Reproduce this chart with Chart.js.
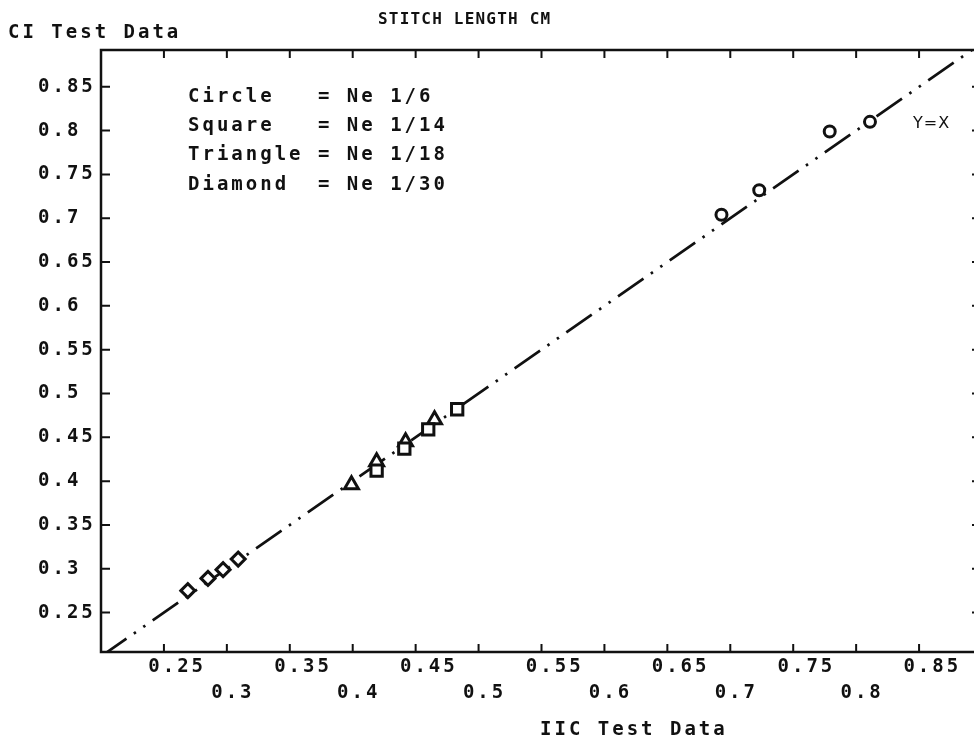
<!DOCTYPE html>
<html>
<head>
<meta charset="utf-8">
<script src="https://cdn.jsdelivr.net/npm/chart.js@4.4.1/dist/chart.umd.min.js"></script>
<style>
  html, body { margin: 0; padding: 0; background: #fff; overflow: hidden; }
</style>
</head>
<body>
<canvas id="stitchChart" width="1000" height="740"></canvas>
<script>
// stitch length in cm, x = IIC test, y = CI test
const circleX = [0.693, 0.723, 0.779, 0.811];
const circleY = [0.704, 0.732, 0.799, 0.810];
const squareX = [0.419, 0.441, 0.460, 0.483];
const squareY = [0.412, 0.437, 0.459, 0.482];
const triangleX = [0.399, 0.419, 0.442, 0.465];
const triangleY = [0.396, 0.422, 0.445, 0.470];
const diamondX = [0.269, 0.285, 0.297, 0.309];
const diamondY = [0.275, 0.289, 0.299, 0.311];
const lineX = [0.2, 0.9];
const lineY = [0.2, 0.9];

const xTicks = [0.25, 0.3, 0.35, 0.4, 0.45, 0.5, 0.55, 0.6, 0.65, 0.7, 0.75, 0.8, 0.85];
const yTicks = [0.25, 0.3, 0.35, 0.4, 0.45, 0.5, 0.55, 0.6, 0.65, 0.7, 0.75, 0.8, 0.85];

const legendLines = [
    'Circle   = Ne 1/6',
    'Square   = Ne 1/14',
    'Triangle = Ne 1/18',
    'Diamond  = Ne 1/30'
];

const ink = '#111';
const mono = '"DejaVu Sans Mono", monospace';
const spacing = '3px';

const pts = (xs, ys) => xs.map((v, i) => ({ x: v, y: ys[i] }));

const marker = (label, xs, ys, style, radius) => ({
    label: label,
    data: pts(xs, ys),
    pointStyle: style,
    pointRadius: radius,
    pointBorderWidth: 3,
    pointBorderColor: ink,
    pointBackgroundColor: '#fff',
    showLine: false
});

// plotter look: spaced text, framed box with inward ticks, free-standing texts
const plotter = {
    id: 'plotter',
    beforeLayout(chart) { chart.ctx.letterSpacing = spacing; },
    beforeDraw(chart) { chart.ctx.letterSpacing = spacing; },
    afterDraw(chart) {
        const { ctx, chartArea: a, scales: { x, y } } = chart;
        ctx.save();
        ctx.strokeStyle = ink;
        ctx.lineWidth = 2.5;
        ctx.strokeRect(a.left, a.top, a.right - a.left, a.bottom - a.top);
        ctx.lineWidth = 2;
        ctx.beginPath();
        x.ticks.forEach(t => {
            const px = x.getPixelForValue(t.value);
            ctx.moveTo(px, a.bottom); ctx.lineTo(px, a.bottom - 8);
            ctx.moveTo(px, a.top); ctx.lineTo(px, a.top + 8);
        });
        y.ticks.forEach(t => {
            const py = y.getPixelForValue(t.value);
            ctx.moveTo(a.left, py); ctx.lineTo(a.left + 9, py);
            ctx.moveTo(a.right, py); ctx.lineTo(a.right - 10, py);
        });
        ctx.stroke();

        ctx.fillStyle = ink;
        ctx.textAlign = 'left';
        ctx.textBaseline = 'alphabetic';
        ctx.font = 'bold 19px ' + mono;
        ctx.letterSpacing = spacing;
        ctx.fillText('CI Test Data', 8, 38);
        ctx.fillText('IIC Test Data', 540, 735);
        legendLines.forEach((s, i) => ctx.fillText(s, 188, 102 + i * 29.2));

        ctx.font = 'bold 16px ' + mono;
        ctx.letterSpacing = '1.2px';
        ctx.fillText('STITCH LENGTH CM', 378, 24);

        ctx.font = '16px "DejaVu Sans", sans-serif';
        ctx.letterSpacing = '1px';
        ctx.fillText('Y=X', 913, 128);
        ctx.restore();
    }
};

new Chart(document.getElementById('stitchChart'), {
    type: 'scatter',
    data: {
        datasets: [
            marker('Circle', circleX, circleY, 'circle', 5.5),
            marker('Square', squareX, squareY, 'rect', 8),
            marker('Triangle', triangleX, triangleY, 'triangle', 8),
            marker('Diamond', diamondX, diamondY, 'rectRot', 7),
            {
                label: 'Y=X',
                data: pts(lineX, lineY),
                showLine: true,
                borderColor: ink,
                borderWidth: 2.7,
                borderDash: [31, 9, 2.5, 9, 2.5, 9],
                pointRadius: 0
            }
        ]
    },
    plugins: [plotter],
    options: {
        responsive: false,
        animation: false,
        layout: { padding: { left: 38, right: 18, top: 50, bottom: 0 } },
        plugins: {
            legend: { display: false },
            tooltip: { enabled: false }
        },
        scales: {
            x: {
                type: 'linear',
                min: 0.2,
                max: 0.9,
                grid: { display: false, drawTicks: false },
                border: { display: false },
                afterBuildTicks: s => { s.ticks = xTicks.map(v => ({ value: v })); },
                afterFit: s => { s.height = 88; },
                ticks: {
                    color: ink,
                    padding: 3,
                    labelOffset: 6,
                    maxRotation: 0,
                    autoSkip: false,
                    font: { family: mono, size: 19, weight: 'bold', lineHeight: 1.32 },
                    callback: v => {
                        const s = String(+v.toFixed(2));
                        return Math.round(v * 100) % 10 === 5 ? ' ' + s : ['', s];
                    }
                }
            },
            y: {
                type: 'linear',
                min: 0.205,
                max: 0.892,
                grid: { display: false, drawTicks: false },
                border: { display: false },
                afterBuildTicks: s => { s.ticks = yTicks.map(v => ({ value: v })); },
                afterFit: s => { s.width = 63; },
                ticks: {
                    color: ink,
                    crossAlign: 'far',
                    autoSkip: false,
                    font: { family: mono, size: 19, weight: 'bold' },
                    callback: v => String(+v.toFixed(2))
                }
            }
        }
    }
});
</script>
</body>
</html>
